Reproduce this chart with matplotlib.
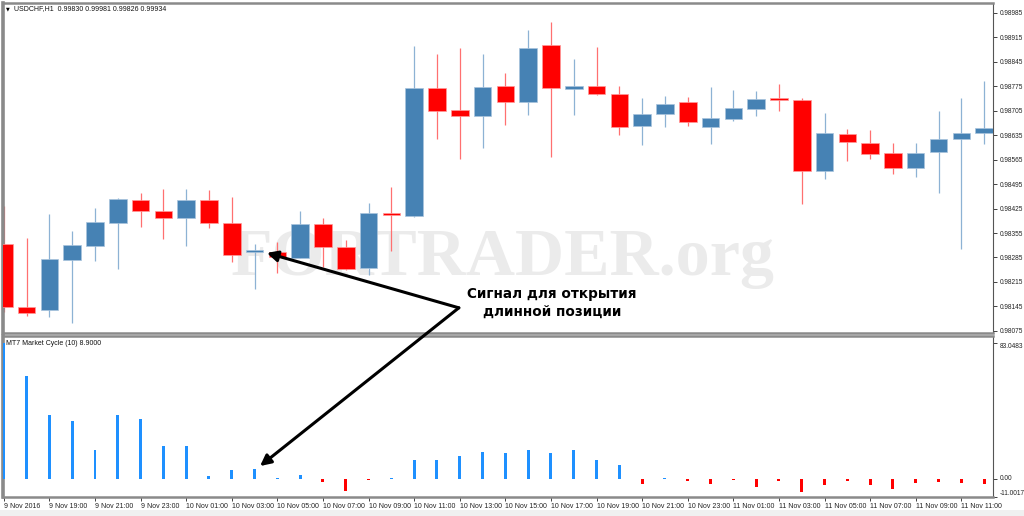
import matplotlib
matplotlib.use("Agg")
import matplotlib.pyplot as plt
from matplotlib.patches import Rectangle
import numpy as np

# USDCHF H1 candles
opens = [0.98324, 0.98143, 0.98135, 0.98278, 0.98318, 0.98384, 0.98449, 0.98418, 0.98398, 0.98449,
         0.98384, 0.98301, 0.98301, 0.98284, 0.98381, 0.98315, 0.98255, 0.98412, 0.98404, 0.98770,
         0.98707, 0.98690, 0.98775, 0.98730, 0.98893, 0.98767, 0.98775, 0.98753, 0.98661, 0.98695,
         0.98730, 0.98658, 0.98681, 0.98710, 0.98738, 0.98735, 0.98532, 0.98638, 0.98612, 0.98584,
         0.98541, 0.98587, 0.98624, 0.98641]
highs = [0.98432, 0.98341, 0.98409, 0.98361, 0.98426, 0.98455, 0.98469, 0.98481, 0.98481, 0.98478,
         0.98458, 0.98324, 0.98329, 0.98418, 0.98398, 0.98335, 0.98441, 0.98487, 0.98890, 0.98867,
         0.98884, 0.98867, 0.98813, 0.98936, 0.98958, 0.98853, 0.98887, 0.98775, 0.98741, 0.98747,
         0.98744, 0.98773, 0.98764, 0.98761, 0.98781, 0.98741, 0.98698, 0.98652, 0.98650, 0.98612,
         0.98612, 0.98704, 0.98741, 0.98790]
lows = [0.98129, 0.98118, 0.98115, 0.98098, 0.98275, 0.98252, 0.98372, 0.98338, 0.98318, 0.98369,
        0.98272, 0.98195, 0.98241, 0.98284, 0.98258, 0.98249, 0.98235, 0.98304, 0.98401, 0.98624,
        0.98567, 0.98598, 0.98664, 0.98692, 0.98572, 0.98692, 0.98750, 0.98635, 0.98607, 0.98658,
        0.98661, 0.98610, 0.98675, 0.98690, 0.98704, 0.98438, 0.98509, 0.98561, 0.98567, 0.98524,
        0.98515, 0.98469, 0.98309, 0.98610]
closes = [0.98143, 0.98126, 0.98281, 0.98321, 0.98386, 0.98452, 0.98418, 0.98398, 0.98449, 0.98384,
          0.98292, 0.98302, 0.98286, 0.98381, 0.98315, 0.98252, 0.98412, 0.98407, 0.98770, 0.98704,
          0.98690, 0.98773, 0.98730, 0.98884, 0.98770, 0.98775, 0.98753, 0.98658, 0.98695, 0.98724,
          0.98672, 0.98684, 0.98712, 0.98738, 0.98735, 0.98532, 0.98641, 0.98615, 0.98581, 0.98541,
          0.98584, 0.98624, 0.98641, 0.98655]

# MT7 Market Cycle histogram
cycle = [83.0483, 63.1, 39.1, 35.2, 17.7, 39.1, 36.6, 20.2, 20.2, 2.0,
         5.3, 6.1, 0.6, 2.3, -2.0, -7.1, -0.6, 0.3, 11.4, 11.4,
         14.0, 16.5, 15.7, 17.5, 15.7, 17.7, 11.6, 8.6, -3.3, 0.3,
         -1.2, -3.3, -0.8, -5.1, -1.2, -8.1, -3.7, -1.2, -3.7, -5.9,
         -2.4, -2.0, -2.6, -3.3]

time_labels = ["9 Nov 2016", "9 Nov 19:00", "9 Nov 21:00", "9 Nov 23:00",
               "10 Nov 01:00", "10 Nov 03:00", "10 Nov 05:00", "10 Nov 07:00",
               "10 Nov 09:00", "10 Nov 11:00", "10 Nov 13:00", "10 Nov 15:00",
               "10 Nov 17:00", "10 Nov 19:00", "10 Nov 21:00", "10 Nov 23:00",
               "11 Nov 01:00", "11 Nov 03:00", "11 Nov 05:00", "11 Nov 07:00",
               "11 Nov 09:00", "11 Nov 11:00"]
price_ticks = [0.98075, 0.98145, 0.98215, 0.98285, 0.98355, 0.98425, 0.98495,
               0.98565, 0.98635, 0.98705, 0.98775, 0.98845, 0.98915, 0.98985]
cycle_ticks = [-11.0017, 0.0, 83.0483]
cycle_tick_labels = ["-11.0017", "0.00", "83.0483"]

signal_bar = 11

BLUE = "#4682B4"
RED = "#FF0000"
small = ["Liberation Sans", "DejaVu Sans"]

o = np.array(opens)
h = np.array(highs)
l = np.array(lows)
c = np.array(closes)
x = np.arange(len(o))
up = c >= o

fig = plt.figure(figsize=(10.24, 5.16), dpi=100)
W, H = 1024, 516
ax1 = fig.add_axes([3 / W, 1 - 333 / H, 990 / W, 330 / H])
ax2 = fig.add_axes([3 / W, 1 - 497 / H, 990 / W, 161 / H])
fig.add_artist(Rectangle((0, 0), 1, 6 / H, transform=fig.transFigure,
                         facecolor="#f0f0f0", edgecolor="none"))

xlim = (-0.035, 43.39)

# watermark
ax1.text(21.9, 0.98235, "FORTRADER.org", fontsize=49, fontweight="bold",
         family="Liberation Serif", color="#ebebeb", ha="center", va="baseline", zorder=0)

# candles
wick_col = np.where(up, "#8db2d4", "#ff7070")
body_col = np.where(up, BLUE, RED)
ax1.vlines(x, l, h, colors=wick_col, lw=0.9, zorder=2)
body_h = np.maximum(np.abs(c - o), 0.00005)
body_b = np.minimum(o, c)
ax1.bar(x, body_h, bottom=body_b, width=0.77, color=body_col,
        edgecolor=np.where(up, "#a9c4dd", "#ff9a9a"), linewidth=0.5, zorder=3)

ax1.set_xlim(*xlim)
ax1.set_ylim(0.98069, 0.99013)
ax1.yaxis.tick_right()
ax1.set_yticks(price_ticks)
ax1.set_yticklabels(["%.5f" % p for p in price_ticks])
ax1.tick_params(axis="y", length=3, width=0.6, pad=1.5, labelsize=4.7, colors="#222222")
ax1.set_xticks([])

# indicator histogram
bar_col = np.where(np.array(cycle) >= 0, "#1E90FF", RED)
ax2.bar(x, cycle, width=0.13, color=bar_col, zorder=3)
ax2.set_xlim(*xlim)
ax2.set_ylim(-11.0017, 87.3)
ax2.yaxis.tick_right()
ax2.set_yticks(cycle_ticks)
ax2.set_yticklabels(cycle_tick_labels)
ax2.tick_params(axis="y", length=3, width=0.6, pad=1.5, labelsize=4.7, colors="#222222")
for lab, va in zip(ax2.get_yticklabels(), ["bottom", "center", "top"]):
    lab.set_verticalalignment(va)
ax2.set_xticks(x[::2])
ax2.set_xticklabels(time_labels, ha="left")
ax2.tick_params(axis="x", length=3, width=0.6, pad=1.5, labelsize=5, colors="#222222")

for ax in (ax1, ax2):
    for lab in ax.get_xticklabels() + ax.get_yticklabels():
        lab.set_family(small)
    for side in ("top", "left", "bottom"):
        ax.spines[side].set_color("#8a8a8a")
        ax.spines[side].set_linewidth(1.8)
    ax.spines["left"].set_linewidth(2.6)
    ax.spines["right"].set_color("#555555")
    ax.spines["right"].set_linewidth(0.8)

fig.text(14 / W, 1 - 9 / H, "USDCHF,H1  0.99830 0.99981 0.99826 0.99934",
         fontsize=5, family=small, va="center", color="#111111")
fig.text(6 / W, 1 - 9 / H, "\u25bc", fontsize=3.5, family="DejaVu Sans", va="center")
ax2.text(0.003, 0.975, "MT7 Market Cycle (10) 8.9000", transform=ax2.transAxes,
         fontsize=5, family=small, va="top", color="#111111")

# signal annotation
ax1.text(24.05, 0.98155, "Сигнал для открытия\nдлинной позиции", ha="center", va="center",
         fontsize=9.8, fontweight="bold", family="DejaVu Sans", linespacing=1.35, zorder=6)
hub = (19.96, 0.98141)
arrow = dict(arrowstyle="-|>", color="black", lw=2.2, mutation_scale=16, shrinkA=0, shrinkB=0)
ax1.annotate("", xy=(signal_bar + 0.54, 0.98298), xytext=hub, arrowprops=arrow, zorder=6)
ax2.annotate("", xy=(signal_bar + 0.24, 7.9), xycoords="data",
             xytext=hub, textcoords=ax1.transData, arrowprops=arrow, zorder=6,
             annotation_clip=False)

fig.savefig("out.png", dpi=100)
